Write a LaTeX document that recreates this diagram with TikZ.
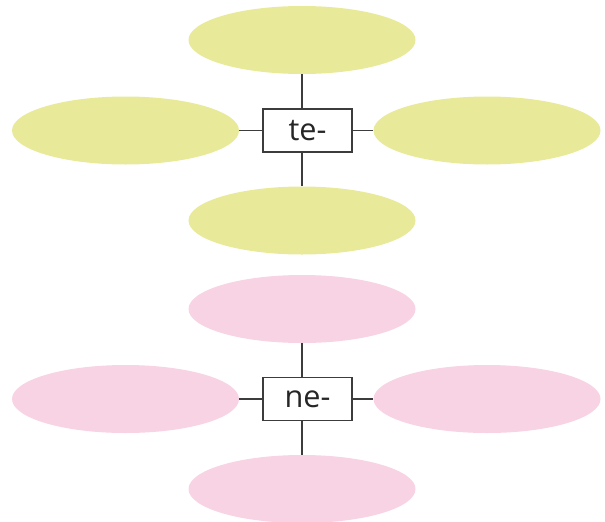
\documentclass[tikz,border=0pt]{standalone}
\usepackage{fontspec}
\setmainfont{Open Sans}
\usetikzlibrary{shapes.geometric}
\definecolor{yel}{HTML}{E8EA9A}
\definecolor{pnk}{HTML}{F8D3E3}
\definecolor{ln}{HTML}{3C3C3C}
\begin{document}
\begin{tikzpicture}[x=0.75pt,y=-0.75pt,
  blob/.style={ellipse,inner sep=0pt,minimum width=227*0.75pt,minimum height=68*0.75pt},
  yblob/.style={blob,fill=yel},
  pblob/.style={blob,fill=pnk},
  pfxbox/.style={draw=ln,line width=0.9pt,fill=white,minimum width=89*0.75pt,minimum height=43*0.75pt,inner sep=0pt,font=\fontsize{23}{27}\selectfont,text=black!85},
  conn/.style={draw=ln,line width=0.9pt}]
\useasboundingbox (0,0) rectangle (605,521);
% top group
\node[yblob] (t1) at (302,40) {};
\node[yblob] (t2) at (125.5,130.5) {};
\node[yblob] (t3) at (487,130.5) {};
\node[yblob] (t4) at (302,220.5) {};
\node[pfxbox] (tb) at (307.5,130.5) {te-};
\draw[conn] (t1.south) -- (t1.south |- tb.north);
\draw[conn] (t4.north) -- (t4.north |- tb.south);
\draw[conn] (t2.east) -- (tb.west);
\draw[conn] (tb.east) -- (t3.west);
% bottom group
\node[pblob] (n1) at (302,309) {};
\node[pblob] (n2) at (125.5,399) {};
\node[pblob] (n3) at (487,399) {};
\node[pblob] (n4) at (302,489) {};
\node[pfxbox] (nb) at (307.5,399) {ne-};
\draw[conn] (n1.south) -- (n1.south |- nb.north);
\draw[conn] (n4.north) -- (n4.north |- nb.south);
\draw[conn] (n2.east) -- (nb.west);
\draw[conn] (nb.east) -- (n3.west);
\end{tikzpicture}
\end{document}
